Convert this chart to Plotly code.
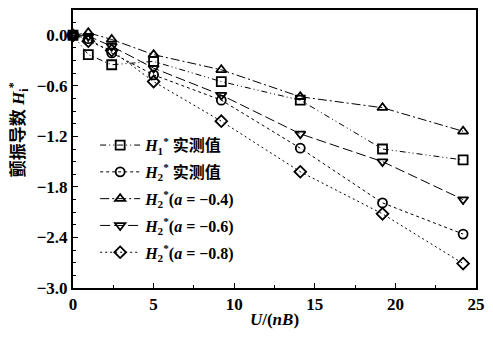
import plotly.graph_objects as go

# Reduced wind speed U/(nB)
u_vals = [0, 0.95, 2.4, 5.0, 9.2, 14.1, 19.2, 24.2]

# Flutter derivatives
h1_measured = [0.0, -0.23, -0.35, -0.31, -0.55, -0.77, -1.35, -1.48]
h2_measured = [0.0, -0.04, -0.21, -0.47, -0.77, -1.34, -1.99, -2.36]
h2_a04 = [0.0, 0.03, -0.05, -0.23, -0.41, -0.73, -0.86, -1.14]
h2_a06 = [0.0, -0.01, -0.13, -0.39, -0.71, -1.17, -1.50, -1.95]
h2_a08 = [0.0, -0.07, -0.18, -0.55, -1.02, -1.62, -2.12, -2.71]

series_names = [
    "<i>H</i><sub>1</sub><sup>*</sup> 实测值",
    "<i>H</i><sub>2</sub><sup>*</sup> 实测值",
    "<i>H</i><sub>2</sub><sup>*</sup>(<i>a</i> = −0.4)",
    "<i>H</i><sub>2</sub><sup>*</sup>(<i>a</i> = −0.6)",
    "<i>H</i><sub>2</sub><sup>*</sup>(<i>a</i> = −0.8)",
]
series_values = [h1_measured, h2_measured, h2_a04, h2_a06, h2_a08]
symbols = ["square-open", "circle-open", "triangle-up-open", "triangle-down-open", "diamond-open"]
dashes = ["6px,3px,1px,3px,1px,3px", "3px,3px", "9px,3px,2px,3px", "10px,4px", "2px,3px"]

serif = "Liberation Serif, Noto Sans CJK SC"

fig = go.Figure()
for i, (name, vals, sym, dash) in enumerate(zip(series_names, series_values, symbols, dashes)):
    fig.add_trace(go.Scatter(
        x=u_vals, y=vals, name=name, mode="lines+markers",
        legendgroup=f"g{i}",
        line=dict(color="black", width=1, dash=dash),
        marker=dict(symbol=sym, size=9, color="black", line=dict(width=1.8, color="black")),
        cliponaxis=False,
    ))

fig.update_layout(
    width=493, height=337,
    margin=dict(l=73, r=8, t=10, b=49),
    plot_bgcolor="white", paper_bgcolor="white",
    font=dict(family=serif, size=15, color="black", weight="bold"),
    showlegend=True,
    legend=dict(
        x=0.055, y=0.575, xanchor="left", yanchor="top",
        bgcolor="rgba(0,0,0,0)", borderwidth=0,
        font=dict(family=serif, size=16, color="black", weight="bold"),
        tracegroupgap=3, itemwidth=40,
    ),
    xaxis=dict(
        range=[0, 25], dtick=5, tick0=0,
        showgrid=False, zeroline=False,
        showline=True, linecolor="black", linewidth=2, mirror=True,
        ticks="inside", ticklen=5, tickcolor="black",
        minor=dict(dtick=2.5, ticks="inside", ticklen=3, tickcolor="black"),
        tickfont=dict(family=serif, size=17, color="black", weight="bold"),
        title=dict(text="<i>U</i>/(<i>nB</i>)", font=dict(family=serif, size=17, weight="bold"), standoff=0),
    ),
    yaxis=dict(
        range=[-3.0, 0.3], dtick=0.6, tick0=0,
        tickformat=".1f",
        showgrid=False, zeroline=False,
        showline=True, linecolor="black", linewidth=2, mirror=True,
        ticks="inside", ticklen=5, tickcolor="black",
        minor=dict(dtick=0.15, ticks="inside", ticklen=3, tickcolor="black"),
        tickfont=dict(family=serif, size=17, color="black", weight="bold"),
    ),
    annotations=[dict(
        text="颤振导数 <i>H</i><sub>i</sub><sup>*</sup>",
        xref="paper", yref="paper", x=-0.135, y=0.57,
        xanchor="center", yanchor="middle", textangle=-90, showarrow=False,
        font=dict(family=serif, size=17, color="black", weight="bold"),
    )],
)

fig.write_html("out.html")
